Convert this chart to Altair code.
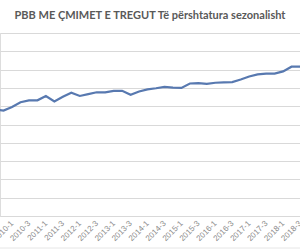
import altair as alt
import pandas as pd

quarters = [
    "2009-3", "2009-4",
    "2010-1", "2010-2", "2010-3", "2010-4",
    "2011-1", "2011-2", "2011-3", "2011-4",
    "2012-1", "2012-2", "2012-3", "2012-4",
    "2013-1", "2013-2", "2013-3", "2013-4",
    "2014-1", "2014-2", "2014-3", "2014-4",
    "2015-1", "2015-2", "2015-3", "2015-4",
    "2016-1", "2016-2", "2016-3", "2016-4",
    "2017-1", "2017-2", "2017-3", "2017-4",
    "2018-1", "2018-2", "2018-3", "2018-4",
]
gdp = [
    291, 288,
    298, 311, 316, 316,
    328, 313, 326, 337,
    328, 333, 338, 338,
    342, 342, 331, 340,
    346, 349, 353, 351,
    350, 362, 363, 361,
    364, 365, 366, 373,
    381, 387, 389, 389,
    395, 408, 408, 409,
]

df = pd.DataFrame({
    "idx": [i - 2 for i in range(len(quarters))],
    "quarter": quarters,
    "gdp": gdp,
})

tick_vals = list(range(0, 35, 2))
label_arr = "[" + ",".join("'" + q + "'" for q in quarters) + "]"
label_expr = label_arr + "[datum.value + 2]"

W, H = 300, 183

line = alt.Chart(df).mark_line(
    color="#5879b0", strokeWidth=2.2, clip=True
).encode(
    x=alt.X("idx:Q",
            scale=alt.Scale(domain=[-1.42, 34.0], nice=False, zero=False),
            axis=alt.Axis(values=tick_vals, labelExpr=label_expr, title=None,
                          grid=False, ticks=False, domain=True,
                          domainColor="#d9d9d9", labelAngle=-45,
                          labelAlign="right", labelBaseline="middle",
                          labelFont="Liberation Sans", labelFontSize=8,
                          labelColor="#8a8a8a", labelPadding=6,
                          labelOverlap=False, labelFlush=False)),
    y=alt.Y("gdp:Q",
            scale=alt.Scale(domain=[0, 500], nice=False),
            axis=alt.Axis(values=list(range(0, 501, 50)), labels=False,
                          ticks=False, domain=False, title=None,
                          gridColor="#d9d9d9", gridWidth=1)),
)

border = alt.Chart(pd.DataFrame({"y": [215]})).mark_rule(
    color="#e6e6e6", strokeWidth=1
).encode(
    x=alt.value(0), x2=alt.value(W), y=alt.Y("y:Q", scale=None)
)

chart = alt.layer(line, border).properties(
    width=W, height=H,
    autosize=alt.AutoSizeParams(type="none"),
    padding={"left": 0, "right": 0, "top": 33, "bottom": 34},
    title=alt.TitleParams(
        "PBB ME ÇMIMET E TREGUT Të përshtatura sezonalisht",
        anchor="middle", font="Lato", fontSize=11, fontWeight="bold",
        color="#595959", offset=12, frame="group"),
).configure_view(stroke=None).configure(background="white")

chart.save("out.html", embed_options={"renderer": "svg", "actions": False})
